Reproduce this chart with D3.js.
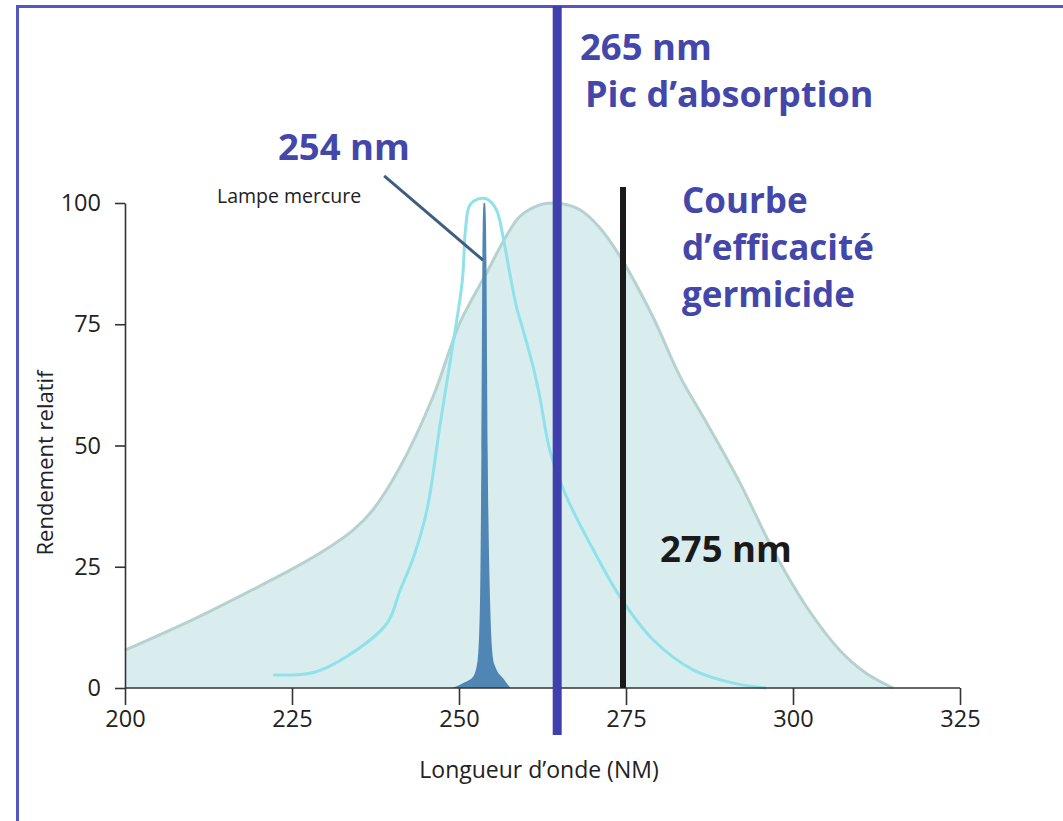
<!DOCTYPE html>
<html>
<head>
<meta charset="utf-8">
<script src="https://cdn.jsdelivr.net/npm/d3@7"></script>
<style>
  html, body { margin: 0; padding: 0; background: #fff; }
  svg { display: block; font-family: "Open Sans", sans-serif; }
</style>
</head>
<body>
<svg id="chart" width="1063" height="821"></svg>
<script>
// Courbe d'efficacité germicide (aire), spectre cyan, raie du mercure à 254 nm
const effWl  = [200, 210, 219, 225, 230, 234.2, 237.1, 241.2, 246.1, 250.1, 254.1, 257, 259.1, 262.1, 264.1, 266, 268.1, 271, 274.1, 279, 283.1, 287.1, 292.1, 297, 302, 307, 311, 315];
const effVal = [7.8, 14, 20.2, 24.5, 28.5, 32.6, 36.7, 45.6, 60, 75.2, 85.5, 93, 97.2, 99.6, 100, 99.7, 98.6, 95, 89, 76.6, 64.2, 54.6, 42.2, 28.5, 16.8, 7.8, 3, 0];

const cyanWl  = [222.2, 228.2, 233.2, 239.2, 241.2, 243.2, 245.2, 247.2, 249.2, 250.5, 251, 251.6, 252.8, 254.2, 255.6, 256.6, 257.6, 258.6, 259.6, 261.1, 262.1, 263.6, 266.1, 270.1, 274.1, 279.1, 285.1, 291.1, 296];
const cyanVal = [2.7, 3.2, 6.5, 13.3, 20.2, 27, 36.7, 54.6, 71.8, 84, 95, 99.5, 100.8, 100.8, 98.6, 93, 85.5, 78.6, 73.8, 66.2, 60, 49, 39.4, 28.5, 18.8, 9.9, 3.7, 1, 0];

const spikeWl  = [248.9, 250.6, 252.1, 252.8, 253.15, 253.35, 253.55, 253.7, 253.9, 254.05, 254.3, 254.65, 255.1, 255.5, 256.6, 257.7];
const spikeVal = [0, 1, 2.3, 5.8, 18, 48, 95, 100, 100, 95, 48, 18, 6, 4.2, 2, 0];

const xTicks = [200, 225, 250, 275, 300, 325];
const yTicks = [0, 25, 50, 75, 100];

const peakAbs = 265;      // ligne bleue
const lineBlack = 275;    // ligne noire
const leader = [[238.8, 105.6], [253.6, 88.2]]; // trait "Lampe mercure"

const BLUE = "#4347a9";

const svg = d3.select("#chart");
const x = d3.scaleLinear().domain([200, 325]).range([125, 960]);
const y = d3.scaleLinear().domain([0, 100]).range([688, 203]);

// cadre bleu (haut + gauche, sort de l'image à droite et en bas)
svg.append("path")
  .attr("d", "M17.5,900 L17.5,6.5 L1100,6.5")
  .attr("fill", "none").attr("stroke", "#5656c2").attr("stroke-width", 3);

const zip = (a, b) => a.map((v, i) => [v, b[i]]);

// aire d'efficacité
svg.append("path")
  .datum(zip(effWl, effVal))
  .attr("d", d3.area().x(d => x(d[0])).y0(y(0)).y1(d => y(d[1])).curve(d3.curveCatmullRom))
  .attr("fill", "#daedee");
svg.append("path")
  .datum(zip(effWl, effVal))
  .attr("d", d3.line().x(d => x(d[0])).y(d => y(d[1])).curve(d3.curveCatmullRom))
  .attr("fill", "none").attr("stroke", "#b6d2cf").attr("stroke-width", 3);

// spectre cyan
svg.append("path")
  .datum(zip(cyanWl, cyanVal))
  .attr("d", d3.line().x(d => x(d[0])).y(d => y(d[1])).curve(d3.curveCatmullRom))
  .attr("fill", "none").attr("stroke", "#8fe1ea").attr("stroke-width", 3);

// raie du mercure
svg.append("path")
  .datum(zip(spikeWl, spikeVal))
  .attr("d", d3.area().x(d => x(d[0])).y0(y(0)).y1(d => y(d[1])).curve(d3.curveMonotoneX))
  .attr("fill", "#4f86b4");

// axes
const axisColor = "#333";
const gx = svg.append("g").attr("transform", `translate(0,${y(0)})`)
  .call(d3.axisBottom(x).tickValues(xTicks).tickSize(17).tickPadding(5).tickSizeOuter(0));
const gy = svg.append("g").attr("transform", `translate(${x(200)},0)`)
  .call(d3.axisLeft(y).tickValues(yTicks).tickSize(10).tickPadding(14).tickSizeOuter(0));
[gx, gy].forEach(g => {
  g.select(".domain").attr("stroke", axisColor).attr("stroke-width", 1.6);
  g.selectAll(".tick line").attr("stroke", axisColor).attr("stroke-width", 1.6);
  g.selectAll(".tick text").attr("fill", "#222").attr("font-size", 23.5)
    .attr("font-family", "Open Sans, sans-serif");
});
gx.select(".domain").attr("d", `M${x(200)},0H${x(325)}`);

// ligne noire 275 nm
svg.append("line")
  .attr("x1", x(lineBlack) - 3).attr("x2", x(lineBlack) - 3)
  .attr("y1", y(0)).attr("y2", 187)
  .attr("stroke", "#1a1a1a").attr("stroke-width", 6);

// ligne bleue 265 nm (pic d'absorption)
svg.append("line")
  .attr("x1", x(peakAbs) - 2).attr("x2", x(peakAbs) - 2)
  .attr("y1", 6).attr("y2", 735)
  .attr("stroke", "#3f3fad").attr("stroke-width", 9);

// trait de rappel
svg.append("line")
  .attr("x1", x(leader[0][0])).attr("y1", y(leader[0][1]))
  .attr("x2", x(leader[1][0])).attr("y2", y(leader[1][1]))
  .attr("stroke", "#3d5f7f").attr("stroke-width", 3);

// textes
const txt = (s, px, py, size, fill, weight) =>
  svg.append("text").attr("x", px).attr("y", py).attr("font-size", size)
    .attr("fill", fill).attr("font-weight", weight || 400).text(s);

txt("254 nm", 278, 160, 36.5, BLUE, 700);
txt("Lampe mercure", 217, 203, 19.5, "#222");
txt("265 nm", 580, 60, 36.5, BLUE, 700);
txt("Pic d\u2019absorption", 585, 107, 36, BLUE, 700);
txt("Courbe", 682, 213, 35, BLUE, 700);
txt("d\u2019efficacit\u00e9", 682, 260, 35, BLUE, 700);
txt("germicide", 682, 307, 35, BLUE, 700);
txt("275 nm", 660, 562, 36.5, "#1a1a1a", 700);

txt("Longueur d\u2019onde (NM)", 539, 778, 23, "#222").attr("text-anchor", "middle");
svg.append("text")
  .attr("transform", "translate(53,463) rotate(-90)")
  .attr("text-anchor", "middle").attr("font-size", 22).attr("fill", "#222")
  .text("Rendement relatif");
</script>
</body>
</html>
